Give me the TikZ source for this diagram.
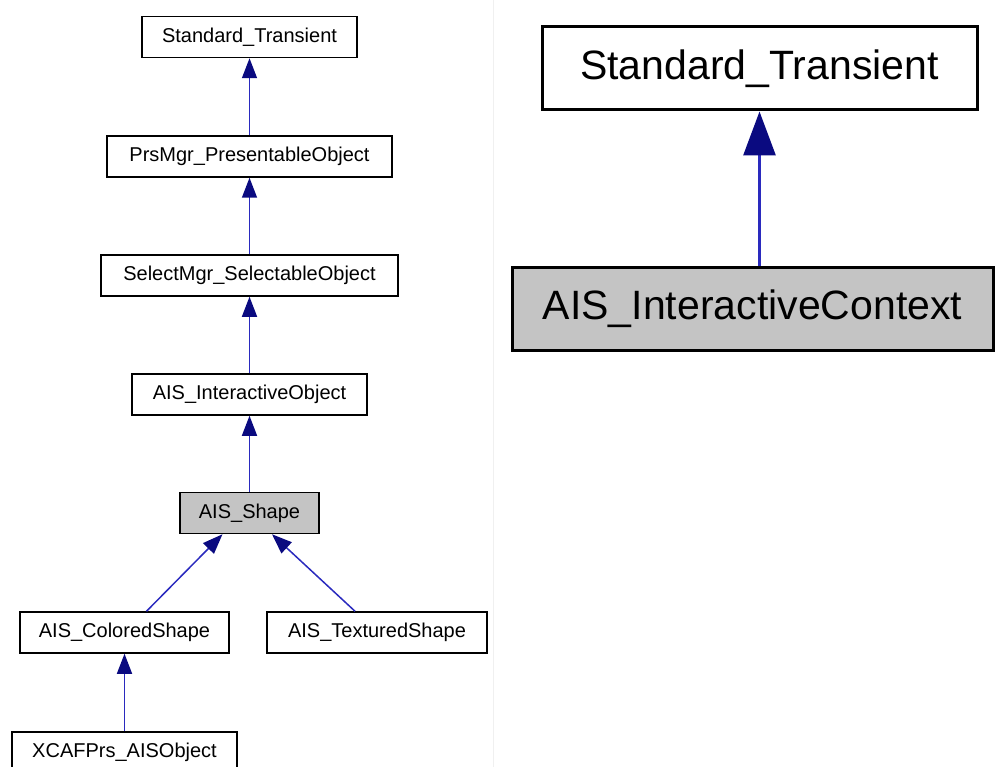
\documentclass[tikz,border=0pt]{standalone}
\usepackage{fontspec}
\setmainfont{Liberation Sans}
\usetikzlibrary{arrows.meta}
\definecolor{edgeblue}{HTML}{2A2ABE}
\definecolor{tipblue}{HTML}{0A0A80}
\definecolor{hlgray}{HTML}{C4C4C4}
\begin{document}
\begin{tikzpicture}[x=1pt,y=-1pt,line cap=butt,line join=miter]
	\tikzset{cls/.style={draw=black,line width=1.5pt,fill=white,inner sep=0pt,minimum height=41pt,font=\fontsize{20}{24}\selectfont},
		clsbig/.style={cls,line width=3pt,minimum height=83pt,font=\fontsize{41}{48}\selectfont},
		hl/.style={fill=hlgray},
		inh/.style={draw=edgeblue,line width=1.5pt,-{Triangle[length=20pt,width=15pt,color=tipblue]}},
		inhbig/.style={inh,line width=3pt,-{Triangle[length=44pt,width=32pt,color=tipblue]}}}
	\useasboundingbox (0,0) rectangle (995,767);
	\clip (0,0) rectangle (995,767);
	\draw[color=black!6,line width=1pt] (493,0)--(493,767); % trennlinie
	% linkes Diagramm
	\node[cls,minimum width=215pt] (st) at (249.5,37) {Standard\_Transient};
	\node[cls,minimum width=285pt] (pm) at (249.5,156.5) {PrsMgr\_PresentableObject};
	\node[cls,minimum width=297pt] (sm) at (249.5,275.5) {SelectMgr\_SelectableObject};
	\node[cls,minimum width=235pt] (io) at (249.5,394.5) {AIS\_InteractiveObject};
	\node[cls,hl,minimum width=139pt] (sh) at (249.5,513) {AIS\_Shape};
	\node[cls,minimum width=209pt] (cs) at (124.5,632.5) {AIS\_ColoredShape};
	\node[cls,minimum width=220pt] (ts) at (377,632.5) {AIS\_TexturedShape};
	\node[cls,minimum width=225pt] (xo) at (124.5,752.5) {XCAFPrs\_AISObject};
	\foreach \a/\b in {pm/st,sm/pm,io/sm,sh/io,xo/cs}{
		\draw[inh] (\a.north)--(\b.south);}
	\draw[inh] ([xshift=22pt]cs.north)--([xshift=-27pt]sh.south);
	\draw[inh] ([xshift=-22pt]ts.north)--([xshift=22.5pt]sh.south);
	% rechtes Diagramm
	\node[clsbig,minimum width=435pt] (stb) at (759.5,68.5) {Standard\_Transient};
	\node[clsbig,hl,minimum width=481pt] (ic) at (752.5,308.5) {AIS\_InteractiveContext};
	\draw[inhbig] (ic.north-|stb.south)--(stb.south);
\end{tikzpicture}
\end{document}
